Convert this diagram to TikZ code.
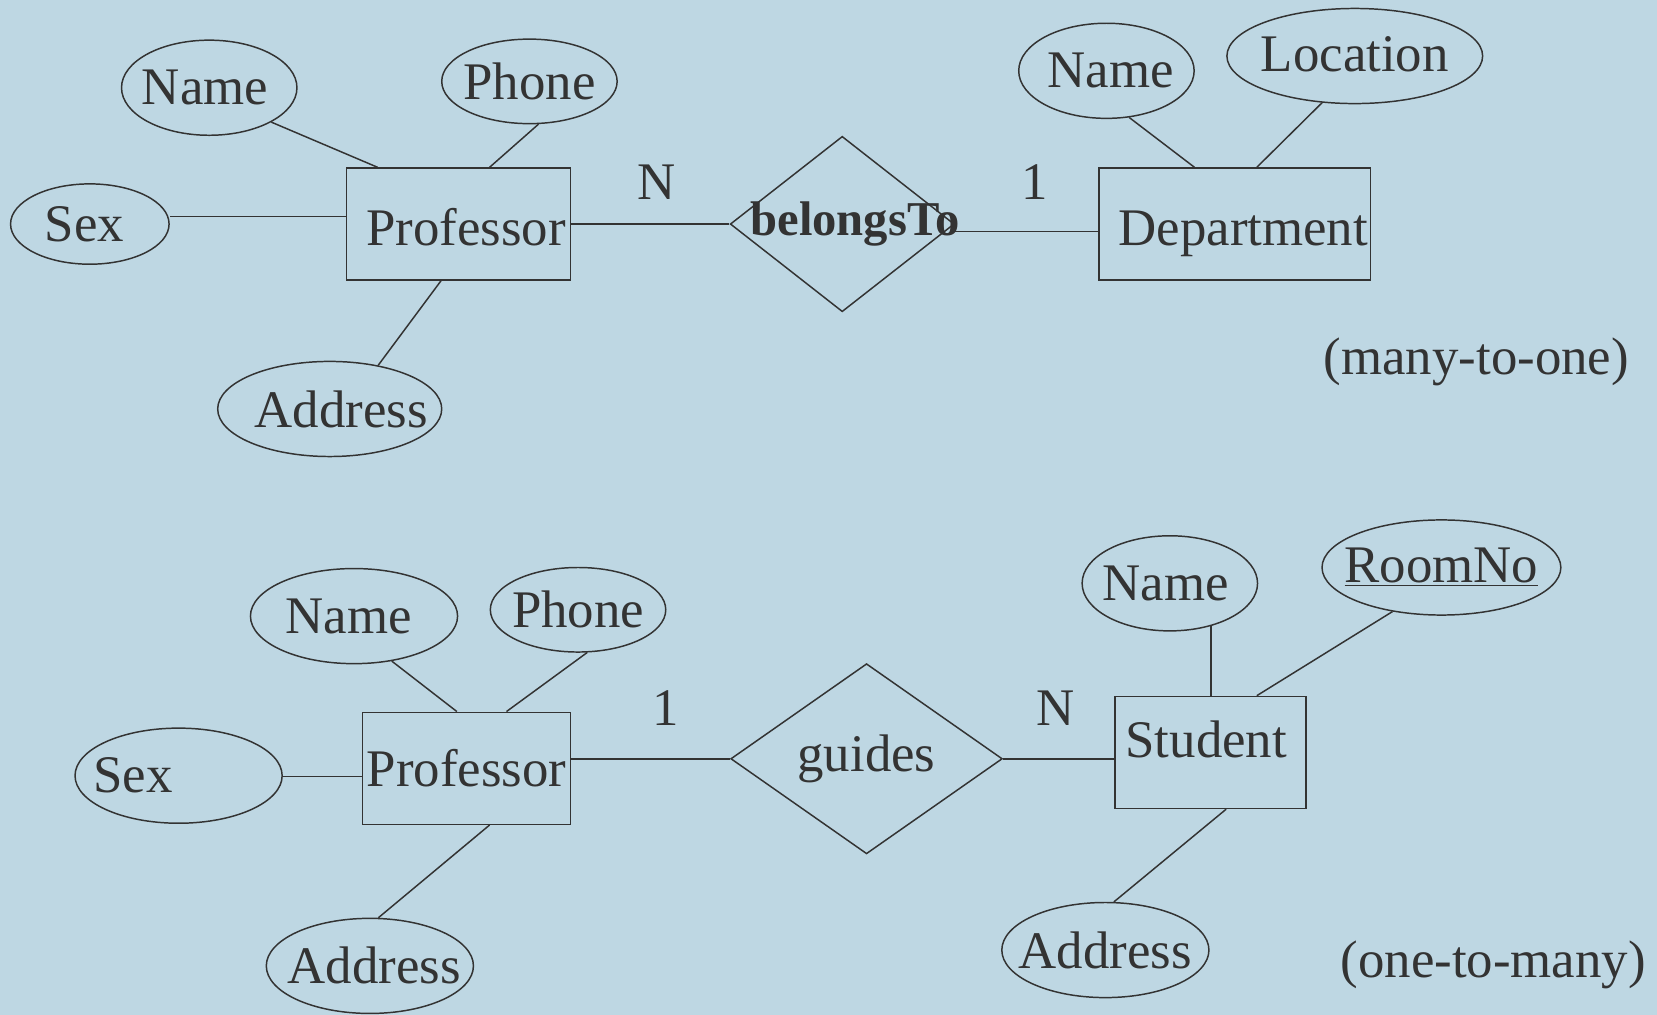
\documentclass[tikz,border=0pt]{standalone}
\usepackage{fontspec}
\setmainfont{Liberation Serif}
\usetikzlibrary{shapes.geometric}
\definecolor{bgc}{HTML}{BED7E3}
\definecolor{ink}{HTML}{333333}
\newcommand\zw[2][0pt]{\makebox[0pt]{\kern#1\relax#2\kern-#1\relax}}
\newcommand\vsh[2]{\raisebox{#1}[\height][\depth]{#2}}
\tikzset{
  ent/.style={draw=ink, line width=0.7pt, rectangle, inner sep=0pt, text=ink},
  attr/.style={draw=ink, line width=0.7pt, ellipse, inner sep=0pt, text=ink},
  rel/.style={draw=ink, line width=0.7pt, diamond, inner sep=0pt, text=ink},
  lab/.style={inner sep=0pt, text=ink},
  conn/.style={draw=ink, line width=0.7pt}
}
\begin{document}
\begin{tikzpicture}[x=0.5pt, y=-0.5pt, font=\fontsize{25}{30}\selectfont]
\fill[bgc] (0,0) rectangle (1568,960);
\useasboundingbox (0,0) rectangle (1568,960);

% ---------- top diagram ----------
\node[ent, minimum width=106pt, minimum height=53pt] (p1) at (434,212) {\zw[3.5pt]{\vsh{-1.5pt}{Professor}}};
\node[attr, minimum width=83pt, minimum height=45pt] (pn1) at (198,83) {\zw[-2pt]{Name}};
\node[attr, minimum width=83pt, minimum height=40pt] (ph1) at (501,77) {\zw{Phone}};
\node[attr, minimum width=75pt, minimum height=38pt] (sx1) at (85,212) {\zw[-2.5pt]{Sex}};
\node[attr, minimum width=106pt, minimum height=45pt] (ad1) at (312,387) {\zw[5.5pt]{Address}};
\node[rel, minimum width=106pt, minimum height=83pt] (bt) at (797,212) {\zw[6pt]{\fontsize{23}{28}\selectfont\bfseries belongsTo}};
\node[ent, minimum width=128.5pt, minimum height=53pt] (d1) at (1168.5,212) {\zw[4pt]{\vsh{-4.5pt}{Department}}};
\node[attr, minimum width=83pt, minimum height=45pt] (dn1) at (1047,67) {\zw[2pt]{Name}};
\node[attr, minimum width=121pt, minimum height=45pt] (lo1) at (1282,53) {\zw{\vsh{1pt}{Location}}};
\node[lab] (n1) at (621,172) {N};
\node[lab] (o1) at (979,172) {1};
\node[lab] (mto) at (1397,342) {(many-to-one)};

\draw[conn] (pn1.-29) -- ([xshift=15pt]p1.north west);
\draw[conn] (ph1.-78) -- ([xshift=68pt]p1.north west);
\draw[conn] ([yshift=3.5pt]p1.west) -- ([yshift=3.5pt]p1.west -| sx1.east);
\draw[conn] (ad1.42) -- ([xshift=45pt]p1.south west);
\draw[conn] (p1.east) -- (bt.west);
\draw[conn] ([yshift=-3.5pt]d1.west) -- ([yshift=-3.5pt]d1.west -| bt.east);
\draw[conn] (dn1.-64) -- ([xshift=45.5pt]d1.north west);
\draw[conn] (lo1.-125) -- ([xshift=75pt]d1.north west);

% ---------- bottom diagram ----------
\node[ent, minimum width=98.5pt, minimum height=53pt] (p2) at (441.5,727) {\zw{Professor}};
\node[attr, minimum width=98pt, minimum height=45pt] (pn2) at (335,583) {\zw[-2.5pt]{Name}};
\node[attr, minimum width=83pt, minimum height=40pt] (ph2) at (547,577) {\zw{Phone}};
\node[attr, minimum width=98pt, minimum height=45pt] (sx2) at (169,734) {\zw[-21.5pt]{Sex}};
\node[attr, minimum width=98pt, minimum height=45pt] (ad2) at (350,914) {\zw[2pt]{Address}};
\node[rel, minimum width=128.5pt, minimum height=90pt] (gd) at (820,718) {\zw{guides}};
\node[ent, minimum width=90.5pt, minimum height=53pt] (st) at (1145.5,712) {\zw[-2pt]{\vsh{6pt}{Student}}};
\node[attr, minimum width=83pt, minimum height=45pt] (sn) at (1107,552) {\zw[-2pt]{Name}};
\node[attr, minimum width=113pt, minimum height=45pt] (rn) at (1364,537) {\zw{\underline{RoomNo}}};
\node[attr, minimum width=98pt, minimum height=45pt] (sa) at (1046,899) {\zw{Address}};
\node[lab] (o2) at (630,670) {1};
\node[lab] (n2) at (999,670) {N};
\node[lab] (otm) at (1413,913) {(one-to-many)};

\draw[conn] (pn2.-50) -- ([xshift=45pt]p2.north west);
\draw[conn] (ph2.-78) -- ([xshift=68.5pt]p2.north west);
\draw[conn] ([yshift=-4pt]p2.west) -- ([yshift=-4pt]p2.west -| sx2.east);
\draw[conn] (ad2.80) -- ([xshift=60.5pt]p2.south west);
\draw[conn] ([yshift=4.5pt]p2.east) -- (gd.west);
\draw[conn] (gd.east) -- (gd.east -| st.west);
\draw[conn] (sn.-46.5) -- (sn.-46.5 |- st.north);
\draw[conn] (rn.-138) -- ([xshift=67.5pt]st.north west);
\draw[conn] (sa.80) -- ([xshift=53pt]st.south west);
\end{tikzpicture}
\end{document}
